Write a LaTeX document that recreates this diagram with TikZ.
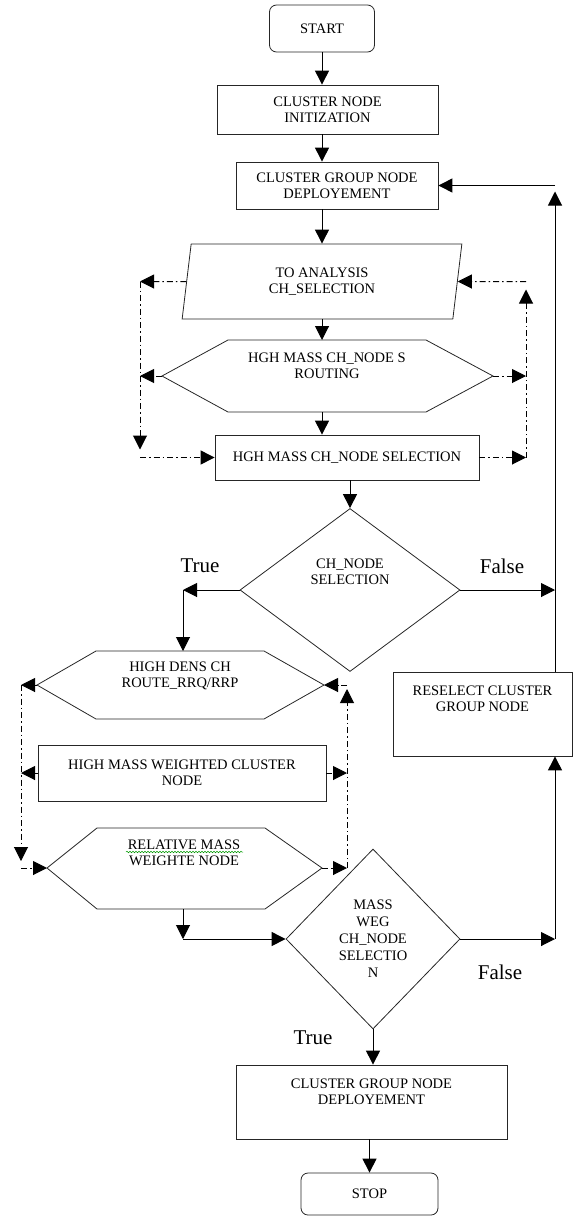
\documentclass[tikz,border=0pt]{standalone}
\usepackage{fontspec}
\setmainfont{Liberation Serif}
\usetikzlibrary{shapes.geometric,arrows.meta,decorations.pathmorphing}

\begin{document}
\begin{tikzpicture}[x=1pt, y=-1pt,
	every node/.style={font=\fontsize{14.5}{16}\selectfont, align=center, inner sep=0pt},
	box/.style={draw=black!85, line width=0.8pt},
	term/.style={box, rounded corners=7pt},
	decision/.style={box, diamond},
	slanted/.style={box, trapezium, trapezium left angle=82.4, trapezium right angle=97.6, trapezium stretches=true},
	hexline/.style={draw=black!85, line width=0.8pt},
	arr/.style={line width=1pt, -{Triangle[length=14pt,width=14pt]}},
	dasharr/.style={arr, dash pattern=on 6pt off 3pt on 1.5pt off 3pt},
	answer/.style={font=\fontsize{21}{23}\selectfont}]
			\useasboundingbox (0,0) rectangle (576,1218);
			\node[term, minimum width=105pt, minimum height=47pt] (start) at (322,28.5) {START};
			\node[box, minimum width=221pt, minimum height=49pt] (init) at (327.5,109.5) {CLUSTER NODE\\INITIZATION};
			\node[box, minimum width=202pt, minimum height=47pt] (deploy) at (337,185.5) {CLUSTER GROUP NODE\\DEPLOYEMENT};
			\node[slanted, minimum width=280pt, minimum height=75pt] (analysis) at (322,281.5) {TO ANALYSIS\\CH\_SELECTION};
			\coordinate (routingW) at (162,376);
			\coordinate (routingE) at (493,376);
			\coordinate (routingN) at (327,340);
			\coordinate (routingS) at (322,412);
			\draw[hexline] (routingW) -- (228,340) -- (426,340) -- (routingE) -- (426,412) -- (228,412) -- cycle;
			\node (routing) at (327,366) {HGH MASS CH\_NODE S\\ROUTING};
			\node[box, minimum width=264pt, minimum height=45pt] (hgsel) at (347,457.5) {HGH MASS CH\_NODE SELECTION};
			\node[decision, minimum width=220pt, minimum height=163pt] (chsel) at (350,590) {};
			\node (chseltext) at (350,572) {CH\_NODE\\SELECTION};
			\node[answer] (true1) at (200,566) {True};
			\node[answer] (false1) at (502,566) {False};
			\coordinate (hdensW) at (37,685);
			\coordinate (hdensE) at (324,685);
			\coordinate (hdensN) at (180,651);
			\draw[hexline] (hdensW) -- (96,651) -- (264,651) -- (hdensE) -- (264,719) -- (96,719) -- cycle;
			\node (hdens) at (180,676) {HIGH DENS CH\\ROUTE\_RRQ/RRP};
			\node[box, minimum width=288pt, minimum height=56pt] (hmw) at (182,773) {HIGH MASS WEIGHTED CLUSTER\\NODE};
			\coordinate (relmassW) at (47,868);
			\coordinate (relmassE) at (322,868);
			\coordinate (relmassS) at (183,909);
			\draw[hexline] (relmassW) -- (97,828) -- (265,828) -- (relmassE) -- (265,909) -- (97,909) -- cycle;
			\node (relmass) at (184,853) {RELATIVE MASS\\WEIGHTE NODE};
			\draw[green!60!black, line width=0.5pt, decorate, decoration={snake, amplitude=0.8pt, segment length=3pt}] (126,852) -- (243,852);
			\node[box, minimum width=179pt, minimum height=84pt] (reselect) at (482.5,714) {};
			\node (reselecttext) at (482.5,699) {RESELECT CLUSTER\\GROUP NODE};
			\node[decision, minimum width=174pt, minimum height=180pt] (mwsel) at (373,939) {};
			\node[font=\fontsize{14.5}{17}\selectfont] (mwseltext) at (373,939) {MASS\\WEG\\CH\_NODE\\SELECTIO\\N};
			\node[answer] (false2) at (500,972) {False};
			\node[answer] (true2) at (313,1038) {True};
			\node[box, minimum width=271pt, minimum height=74pt] (deploy2) at (371.5,1102) {};
			\node (deploy2text) at (371.5,1091.5) {CLUSTER GROUP NODE\\DEPLOYEMENT};
			\node[term, minimum width=137pt, minimum height=42pt] (stop) at (369.5,1194) {STOP};
			\coordinate (ul) at (140,281.5);
			\coordinate (ml) at (140,376);
			\coordinate (bl) at (140,457.5);
			\coordinate (ur) at (526,281.5);
			\coordinate (mr) at (526,376);
			\coordinate (br) at (526,457.5);
			\coordinate (lt) at (21,685);
			\coordinate (lm) at (21,773);
			\coordinate (lb) at (21,868);
			\coordinate (rt) at (347,685);
			\coordinate (rm) at (347,773);
			\coordinate (rb) at (347,868);
			\coordinate (tc) at (183,590);
			\coordinate (cc) at (183,939);
			\coordinate (fbtop) at (555,185.5);
			\coordinate (fbmid) at (555,590);
			\coordinate (fbbot) at (555,939);
			\draw[arr] (start) -- (start |- init.north);
			\draw[arr] (init.south -| start) -- (start |- deploy.north);
			\draw[arr] (deploy.south -| start) -- (start |- analysis.north);
			\draw[arr] (analysis.south) -- (analysis.south |- routingN);
			\draw[arr] (routingS) -- (routingS |- hgsel.north);
			\draw[arr] (hgsel.south -| chsel.north) -- (chsel.north);
			\draw[dasharr] (analysis.west) -- (ul);
			\draw[dasharr] (routingW) -- (ml);
			\draw[dasharr] (ul) -- ([yshift=8pt]bl);
			\draw[dasharr] (bl) -- (hgsel.west);
			\draw[dasharr] (hgsel.east) -- (br);
			\draw[dasharr] (routingE) -- (mr);
			\draw[dasharr] (br) -- ([yshift=-8pt]ur);
			\draw[dasharr] (ur) -- (analysis.east);
			\draw[arr] (chsel.west) -- (tc);
			\draw[arr] (tc) -- (tc |- hdensN);
			\draw[arr] (chsel.east) -- (fbmid);
			\draw[arr] (reselect.north -| fbmid) -- ([yshift=-6pt]fbtop);
			\draw[arr] (fbtop) -- (deploy.east);
			\draw[dasharr] (hdensW) -- (lt);
			\draw[dasharr] (hmw.west) -- (lm);
			\draw[dasharr] (lt) -- ([yshift=7pt]lb);
			\draw[dasharr] (lb) -- (relmassW);
			\draw[dasharr] (relmassE) -- (rb);
			\draw[dasharr] (hmw.east) -- (rm);
			\draw[dasharr] (rb) -- ([yshift=-4pt]rt);
			\draw[dasharr] (rt) -- (hdensE);
			\draw[arr] (relmassS) -- (cc);
			\draw[arr] (cc) -- (mwsel.west);
			\draw[arr] (mwsel.east) -- (fbbot);
			\draw[arr] (fbbot) -- (reselect.south -| fbbot);
			\draw[arr] (mwsel.south) -- (mwsel.south |- deploy2.north);
			\draw[arr] (deploy2.south -| stop) -- (stop.north);
		\end{tikzpicture}
\end{document}
